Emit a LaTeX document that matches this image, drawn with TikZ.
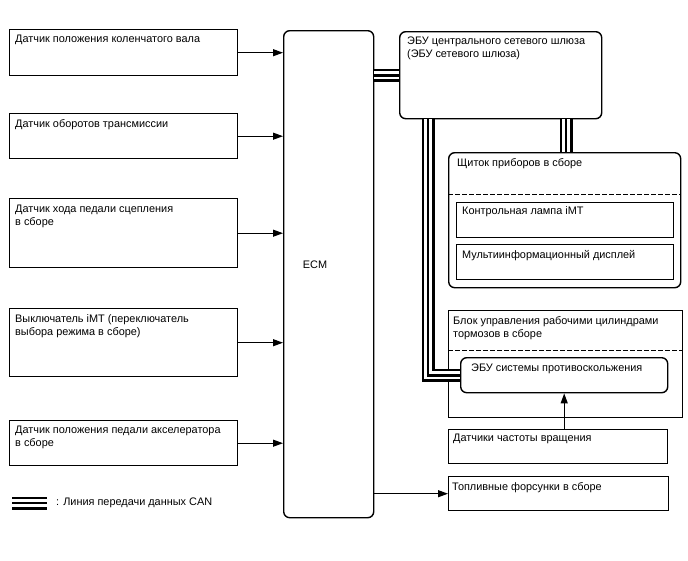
\documentclass[tikz,border=0pt]{standalone}
\usepackage{fontspec}
\setmainfont{Liberation Sans}
\usetikzlibrary{arrows.meta,calc}
\begin{document}
\begin{tikzpicture}[x=1pt,y=-1pt,
  box/.style={draw, line width=1.4pt, anchor=north west, inner sep=0pt},
  rbox/.style={box, rounded corners=6pt},
  lbl/.style={anchor=north west, inner sep=0pt, align=left, font=\fontsize{10.9}{13}\selectfont},
  arr/.style={line width=1.1pt, -{Triangle[length=10pt,width=7pt]}},
  sep/.style={line width=0.8pt, dash pattern=on 4.5pt off 2.5pt},
  can/.style={line width=2.8pt, line join=miter, line cap=butt,
    preaction={draw=white, line width=7.6pt, line join=miter, line cap=butt,
      preaction={draw=black, line width=13pt, line join=miter, line cap=butt}}}
]
\useasboundingbox[fill=white] (0,0) rectangle (688,560);

% left sensors
\node[box, minimum width=228pt, minimum height=46pt] (s1) at (9,29) {};
\node[box, minimum width=228pt, minimum height=45pt] (s2) at (9,113) {};
\node[box, minimum width=228pt, minimum height=69pt] (s3) at (9,198) {};
\node[box, minimum width=228pt, minimum height=68pt] (s4) at (9,308) {};
\node[box, minimum width=228pt, minimum height=45pt] (s5) at (9,420) {};
\node[lbl] (s1t) at ($(s1.north west)+(6,6)$) {Датчик положения коленчатого вала};
\node[lbl] (s2t) at ($(s2.north west)+(6,6)$) {Датчик оборотов трансмиссии};
\node[lbl] (s3t) at ($(s3.north west)+(6,7)$) {Датчик хода педали сцепления\\в сборе};
\node[lbl] (s4t) at ($(s4.north west)+(6,6)$) {Выключатель iMT (переключатель\\выбора режима в сборе)};
\node[lbl] (s5t) at ($(s5.north west)+(6,6)$) {Датчик положения педали акселератора\\в сборе};

% ECM
\node[rbox, minimum width=90pt, minimum height=487pt] (ecm) at (283,30) {};
\node[font=\fontsize{10.9}{13}\selectfont, inner sep=0pt] (ecmt) at (315,265) {ECM};

% gateway
\node[rbox, minimum width=202pt, minimum height=87pt] (gw) at (399,31) {};
\node[lbl] (gwt) at ($(gw.north west)+(8,6)$) {ЭБУ центрального сетевого шлюза\\(ЭБУ сетевого шлюза)};

% instrument cluster
\node[rbox, minimum width=232pt, minimum height=135pt] (cl) at (448,152) {};
\node[lbl] (clt) at ($(cl.north west)+(9,6)$) {Щиток приборов в сборе};
\coordinate (cld1) at (448,194);
\coordinate (cld2) at (680,194);
\draw[sep] (cld1) -- (cld2);
\node[box, minimum width=217pt, minimum height=35pt] (cl1) at (456,202) {};
\node[box, minimum width=217pt, minimum height=35pt] (cl2) at (456,244) {};
\node[lbl] (cl1t) at ($(cl1.north west)+(6,4)$) {Контрольная лампа iMT};
\node[lbl] (cl2t) at ($(cl2.north west)+(6,6)$) {Мультиинформационный дисплей};

% brake block
\node[box, minimum width=234pt, minimum height=107pt] (br) at (448,310) {};
\node[lbl] (brt) at ($(br.north west)+(5,6)$) {Блок управления рабочими цилиндрами\\тормозов в сборе};
\coordinate (brd1) at (448,350);
\coordinate (brd2) at (682,350);
\draw[sep] (brd1) -- (brd2);
\node[rbox, minimum width=207pt, minimum height=35pt] (abs) at (460,357) {};
\node[lbl] (abst) at ($(abs.north west)+(11,7)$) {ЭБУ системы противоскольжения};

% speed sensors, injectors
\node[box, minimum width=219pt, minimum height=34pt] (spd) at (448,429) {};
\node[lbl] (spdt) at ($(spd.north west)+(5,5)$) {Датчики частоты вращения};
\node[box, minimum width=220pt, minimum height=34pt] (inj) at (448,476) {};
\node[lbl] (injt) at ($(inj.north west)+(4,6)$) {Топливные форсунки в сборе};

% arrows
\draw[arr] (s1.east) -- (s1.east -| ecm.west);
\draw[arr] (s2.east) -- (s2.east -| ecm.west);
\draw[arr] (s3.east) -- (s3.east -| ecm.west);
\draw[arr] (s4.east) -- (s4.east -| ecm.west);
\draw[arr] (s5.east) -- (s5.east -| ecm.west);
\draw[arr] (inj.west -| ecm.east) -- (inj.west);
\draw[arr] (abs.south |- spd.north) -- (abs.south);

% CAN lines
\draw[can] (ecm.east |- gw.west) -- (gw.west);
\coordinate (gwc) at ($(gw.south west)+(167,0)$);
\draw[can] (gwc) -- (gwc |- cl.north);
\coordinate (gwa) at ($(gw.south west)+(29,0)$);
\draw[can] (gwa) -- (gwa |- abs.west) -- (abs.west);

% legend
\coordinate (lg1) at (12,503);
\coordinate (lg2) at (47,503);
\draw[can] (lg1) -- (lg2);
\node[anchor=west, inner sep=0pt, font=\fontsize{10.9}{13}\selectfont] (lgt) at (56,503) {: Линия передачи данных CAN};
\end{tikzpicture}
\end{document}
